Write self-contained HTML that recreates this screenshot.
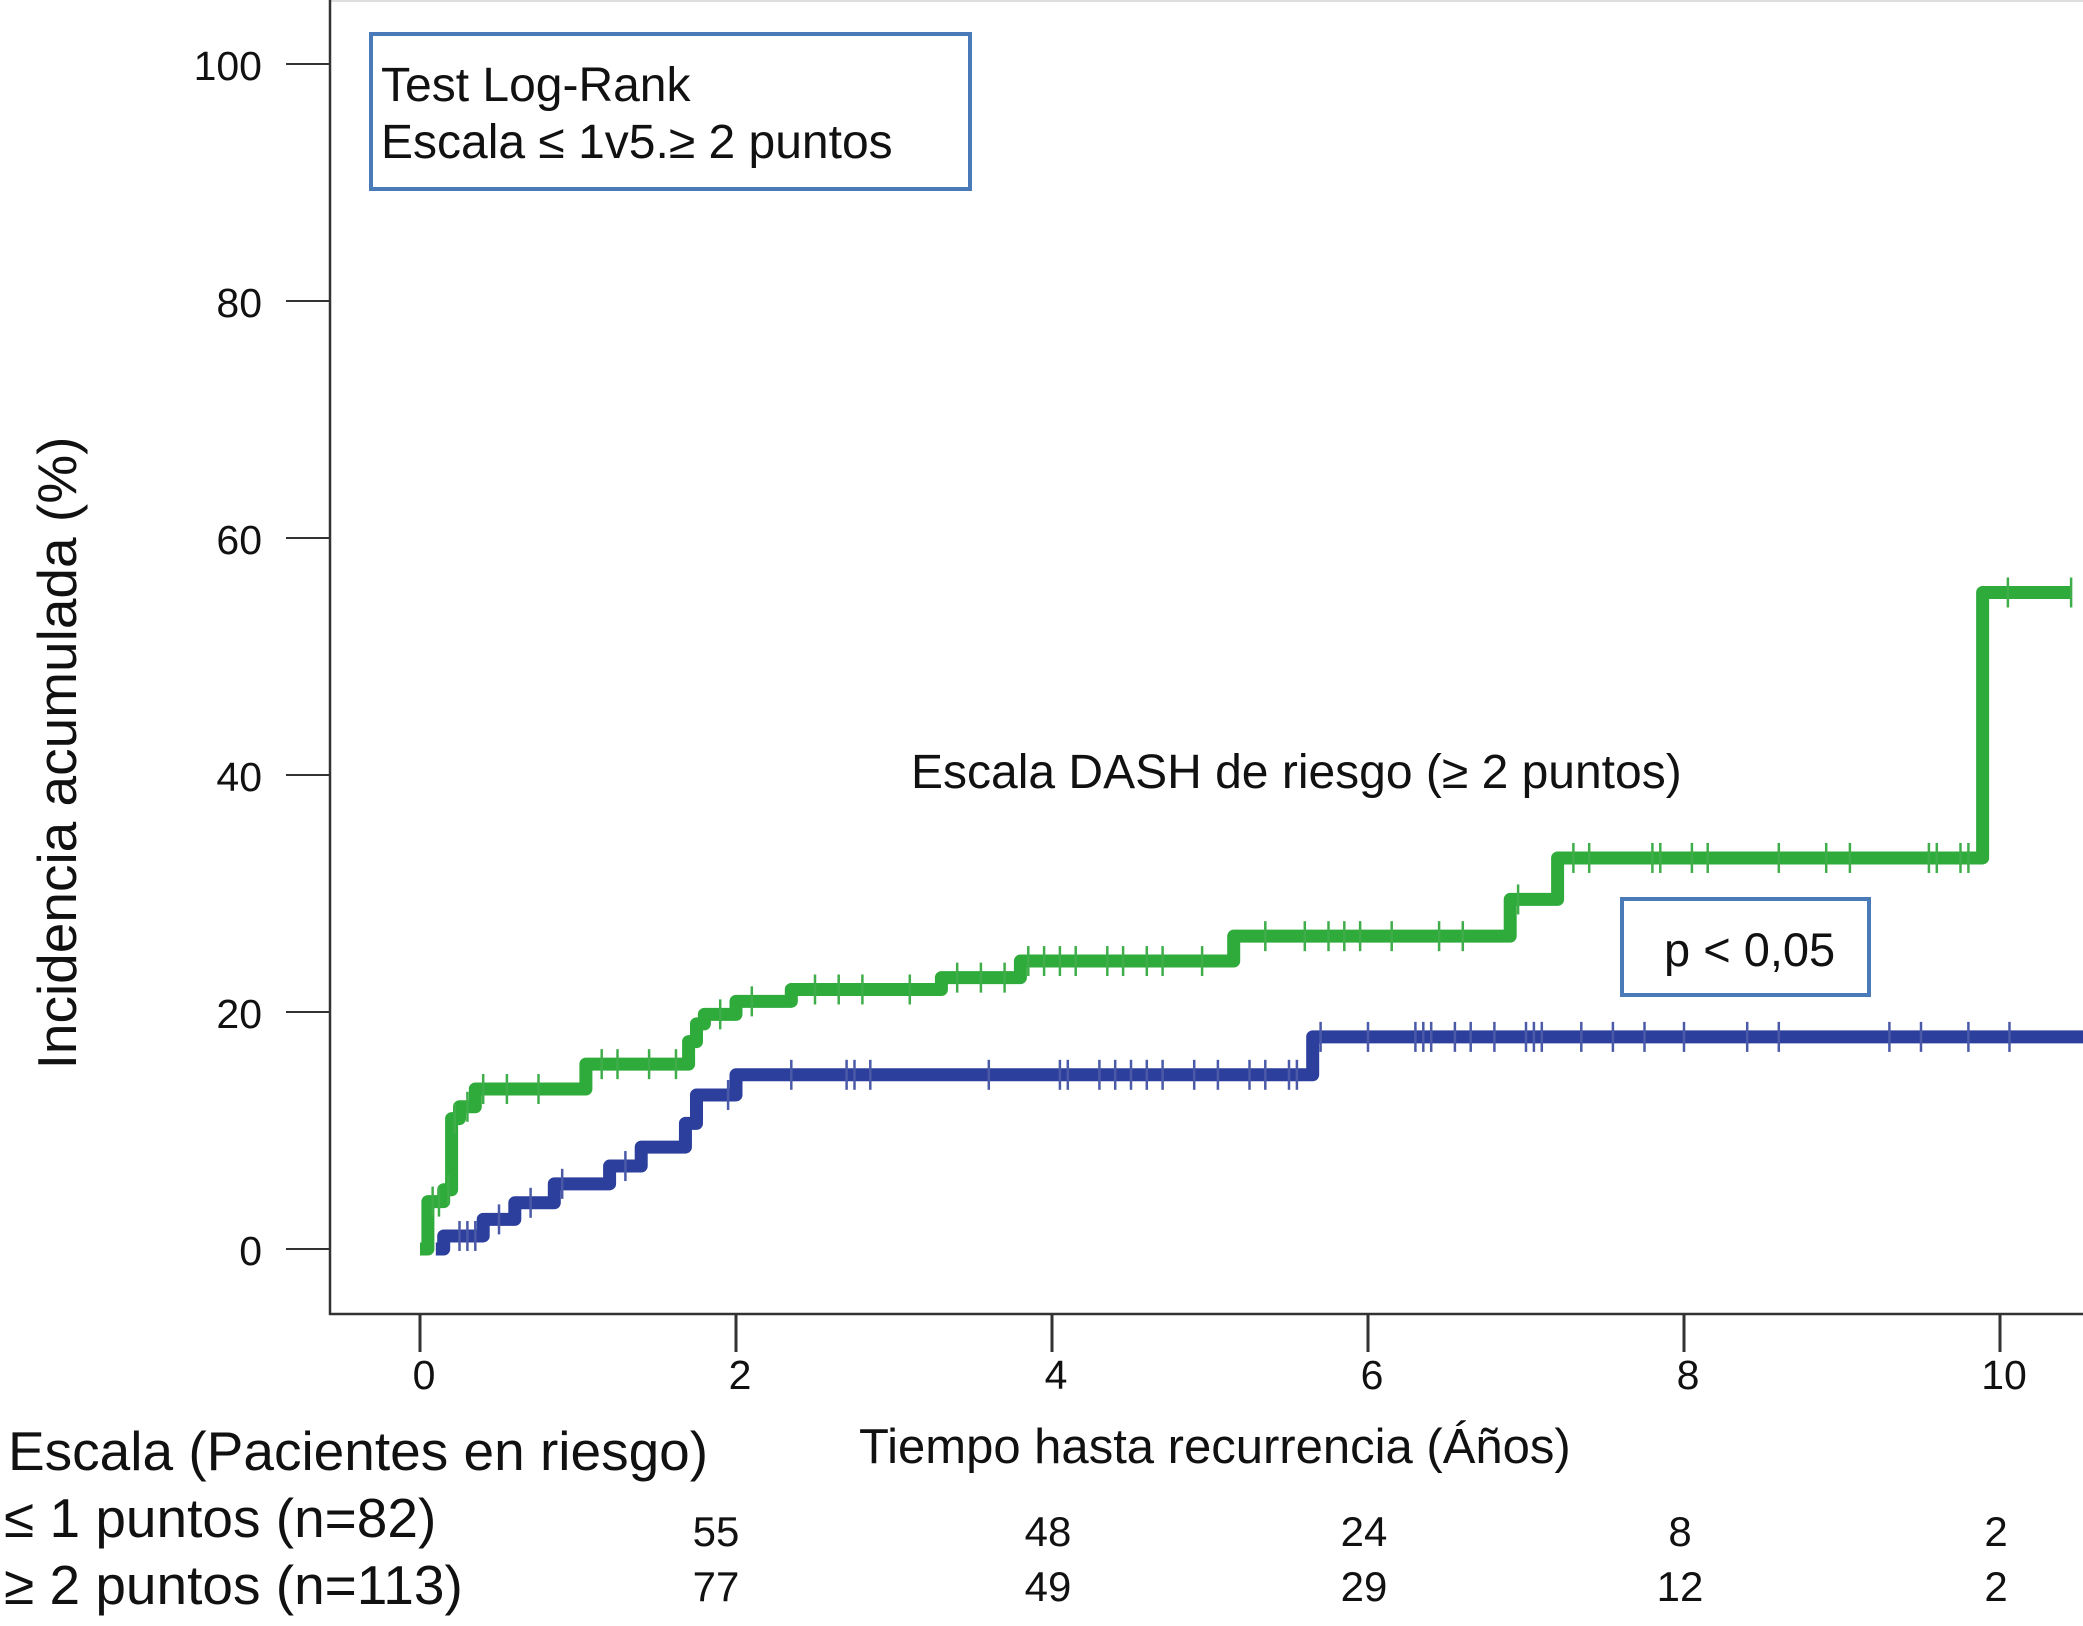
<!DOCTYPE html>
<html><head><meta charset="utf-8">
<style>
html,body{margin:0;padding:0;background:#fff;}
svg{display:block;font-family:"Liberation Sans",sans-serif;}
</style></head>
<body>
<svg id="chart" width="2083" height="1626" viewBox="0 0 2083 1626" xmlns="http://www.w3.org/2000/svg">
  <rect x="0" y="0" width="2083" height="1626" fill="#fff"/>
  <line x1="329" y1="1" x2="2083" y2="1" stroke="#ddd" stroke-width="2"/>
  <line x1="330" y1="0" x2="330" y2="1315" stroke="#333" stroke-width="2.5"/>
  <line x1="329" y1="1314" x2="2083" y2="1314" stroke="#333" stroke-width="2.5"/>
  <g id="yticks"></g>
  <g id="xticks"></g>
  <g id="series"></g>

  <text transform="translate(76,753) rotate(-90)" text-anchor="middle" font-size="55" fill="#111">Incidencia acumulada (%)</text>
  <text x="859" y="1463" font-size="49" fill="#111">Tiempo hasta recurrencia (Áños)</text>

  <g>
    <rect x="371" y="34" width="599" height="155" fill="#fff" stroke="#4a7ab8" stroke-width="4"/>
    <text x="381" y="101" font-size="48" fill="#111">Test Log-Rank</text>
    <text x="381" y="158" font-size="48" fill="#111">Escala ≤ 1v5.≥ 2 puntos</text>
  </g>
  <text x="911" y="788" font-size="48" fill="#111">Escala DASH de riesgo (≥ 2 puntos)</text>
  <g>
    <rect x="1622" y="899" width="247" height="96" fill="#fff" stroke="#4a7ab8" stroke-width="4"/>
    <text x="1664" y="966" font-size="47" fill="#111">p &lt; 0,05</text>
  </g>

  <g fill="#111">
    <text x="8" y="1470" font-size="55">Escala (Pacientes en riesgo)</text>
    <text x="4" y="1537" font-size="55">≤ 1 puntos (n=82)</text>
    <text x="4" y="1604" font-size="55">≥ 2 puntos (n=113)</text>
    <g id="riskvals"></g>
  </g>
</svg>
<script>
const yTicks = [0, 20, 40, 60, 80, 100];
const xTicks = [0, 2, 4, 6, 8, 10];
const greenTimes = [0, 0.05, 0.15, 0.2, 0.25, 0.35, 1.05, 1.7, 1.75, 1.8, 2.0, 2.35, 3.3, 3.8, 5.15, 6.9, 7.2, 9.89, 10.45];
const greenVals  = [0, 4, 5, 11, 12, 13.5, 15.6, 17.5, 19, 19.8, 20.9, 21.9, 22.9, 24.3, 26.4, 29.5, 33, 55.4, 55.4];
const blueTimes = [0.1, 0.15, 0.4, 0.6, 0.85, 1.2, 1.4, 1.68, 1.75, 2.0, 5.65, 10.6];
const blueVals  = [0, 1.1, 2.5, 3.9, 5.5, 7, 8.6, 10.6, 13, 14.7, 17.9, 17.9];
const greenCensor = [0.08,0.12,0.18,0.22,0.3,0.4,0.55,0.75,1.15,1.25,1.45,1.62,1.9,2.1,2.5,2.65,2.8,3.1,3.4,3.55,3.7,3.85,3.95,4.05,4.15,4.35,4.45,4.6,4.7,4.95,5.35,5.6,5.75,5.85,5.95,6.15,6.45,6.6,6.95,7.3,7.4,7.8,7.85,8.05,8.15,8.6,8.9,9.05,9.55,9.6,9.75,9.8,10.05,10.45];
const greenCensorVal = greenCensor.map(t => stepAt(greenTimes, greenVals, t));
const blueCensor = [0.25,0.3,0.35,0.5,0.7,0.9,1.3,1.95,2.35,2.7,2.75,2.85,3.6,4.05,4.1,4.3,4.4,4.5,4.6,4.7,4.9,5.05,5.25,5.35,5.5,5.55,5.7,6.0,6.3,6.35,6.4,6.55,6.65,6.8,7.0,7.05,7.1,7.35,7.55,7.75,8.0,8.4,8.6,9.3,9.5,9.8,10.06];
const riskLow = [55, 48, 24, 8, 2];
const riskHigh = [77, 49, 29, 12, 2];
const riskYears = [2, 4, 6, 8, 10];

function stepAt(ts, vs, t){ let v = vs[0]; for(let i=0;i<ts.length;i++){ if(ts[i]<=t) v=vs[i]; } return v; }
const X = t => 420 + t * 158;
const Y = v => 1249 - v * 11.85;
const NS = "http://www.w3.org/2000/svg";
function mk(tag, attrs, parent){ const e=document.createElementNS(NS,tag); for(const k in attrs) e.setAttribute(k, attrs[k]); parent.appendChild(e); return e; }

const yt = document.getElementById('yticks');
yTicks.forEach(v => {
  const l = mk('line',{x1:286,x2:330,y1:Y(v),y2:Y(v),stroke:'#333','stroke-width':2},yt);
  
  
  const t = mk('text',{x:262,y:Y(v)+16,'text-anchor':'end','font-size':41,fill:'#111'},yt);
  t.textContent = v;
  
  
});
const xt = document.getElementById('xticks');
xTicks.forEach(v => {
  const l = mk('line',{x1:X(v),x2:X(v),y1:1314,y2:1352,stroke:'#333','stroke-width':3},xt);
  
  
  const t = mk('text',{x:X(v)+4,y:1389,'text-anchor':'middle','font-size':41,fill:'#111'},xt);
  t.textContent = v;
  
  
});

function stepPath(ts, vs){
  let d = 'M' + X(ts[0]) + ' ' + Y(vs[0]);
  for(let i=1;i<ts.length;i++){ d += ' H' + X(ts[i]) + ' V' + Y(vs[i]); }
  return d;
}
const sg = document.getElementById('series');
const bp = mk('path',{d:stepPath(blueTimes, blueVals),fill:'none',stroke:'#2d3f9c','stroke-width':13,'stroke-linejoin':'round'},sg);


blueCensor.forEach(t => {
  const v = stepAt(blueTimes, blueVals, t);
  const c = mk('line',{x1:X(t),x2:X(t),y1:Y(v)-15,y2:Y(v)+15,stroke:'#4a5aa8','stroke-width':2.5},sg);
  
  
});
const gp = mk('path',{d:stepPath(greenTimes, greenVals),fill:'none',stroke:'#2eab3a','stroke-width':13,'stroke-linejoin':'round'},sg);


greenCensor.forEach((t,i) => {
  const v = greenCensorVal[i];
  const c = mk('line',{x1:X(t),x2:X(t),y1:Y(v)-15,y2:Y(v)+15,stroke:'#3fae4a','stroke-width':2.5},sg);
  
  
});

const rv = document.getElementById('riskvals');
riskYears.forEach((yr,i) => {
  const a = mk('text',{x:X(yr)-4+(i===0?-16:0),y:1546,'text-anchor':'middle','font-size':42},rv);
  a.textContent = riskLow[i];
  
  
  const b = mk('text',{x:X(yr)-4+(i===0?-16:0),y:1601,'text-anchor':'middle','font-size':42},rv);
  b.textContent = riskHigh[i];
  
  
});
</script>
</body></html>
